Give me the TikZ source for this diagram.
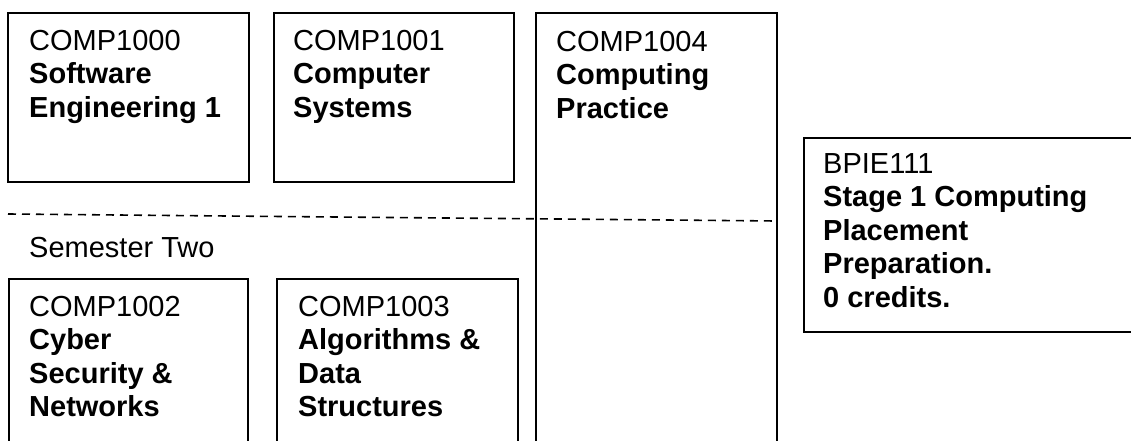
\documentclass[tikz,border=0pt]{standalone}
\usepackage{fontspec}
\setmainfont{Liberation Sans}
\begin{document}
\begin{tikzpicture}[x=1pt,y=-1pt,
  box/.style={line width=1.5pt, line join=miter},
  label/.style={anchor=north west, inner sep=0pt, align=left, font=\fontsize{29}{33.5}\selectfont},
  sep/.style={line width=1.6pt, dash pattern=on 8pt off 6pt}]
\useasboundingbox (0,0) rectangle (1131,441);
% semester one boxes
\draw[box] (8,13) rectangle (249,182);
\draw[box] (274,13) rectangle (514,182);
\draw[box] (536,441) -- (536,13) -- (777,13) -- (777,441);
\draw[box] (1131,138) -- (804,138) -- (804,332) -- (1131,332);
% semester two boxes
\draw[box] (9,441) -- (9,279) -- (248,279) -- (248,441);
\draw[box] (277,441) -- (277,279) -- (518,279) -- (518,441);
% separator
\coordinate (dl) at (8,214);
\coordinate (dr) at (776,221);
\draw[sep] (dl) -- (dr);
% texts
\node[label] (c1000) at (29,30) {COMP1000\\\textbf{Software}\\\textbf{Engineering 1}};
\node[label] (c1001) at (293,30) {COMP1001\\\textbf{Computer}\\\textbf{Systems}};
\node[label] (c1004) at (556,31) {COMP1004\\\textbf{Computing}\\\textbf{Practice}};
\node[label] (bpie) at (823,153) {BPIE111\\\textbf{Stage 1 Computing}\\\textbf{Placement}\\\textbf{Preparation.}\\\textbf{0 credits.}};
\node[anchor=base west, inner sep=0pt, font=\fontsize{29}{33.5}\selectfont] (sem) at (29,257) {Semester Two};
\node[label] (c1002) at (29,296) {COMP1002\\\textbf{Cyber}\\\textbf{Security \&}\\\textbf{Networks}};
\node[label] (c1003) at (298,296) {COMP1003\\\textbf{Algorithms \&}\\\textbf{Data}\\\textbf{Structures}};
\end{tikzpicture}
\end{document}
